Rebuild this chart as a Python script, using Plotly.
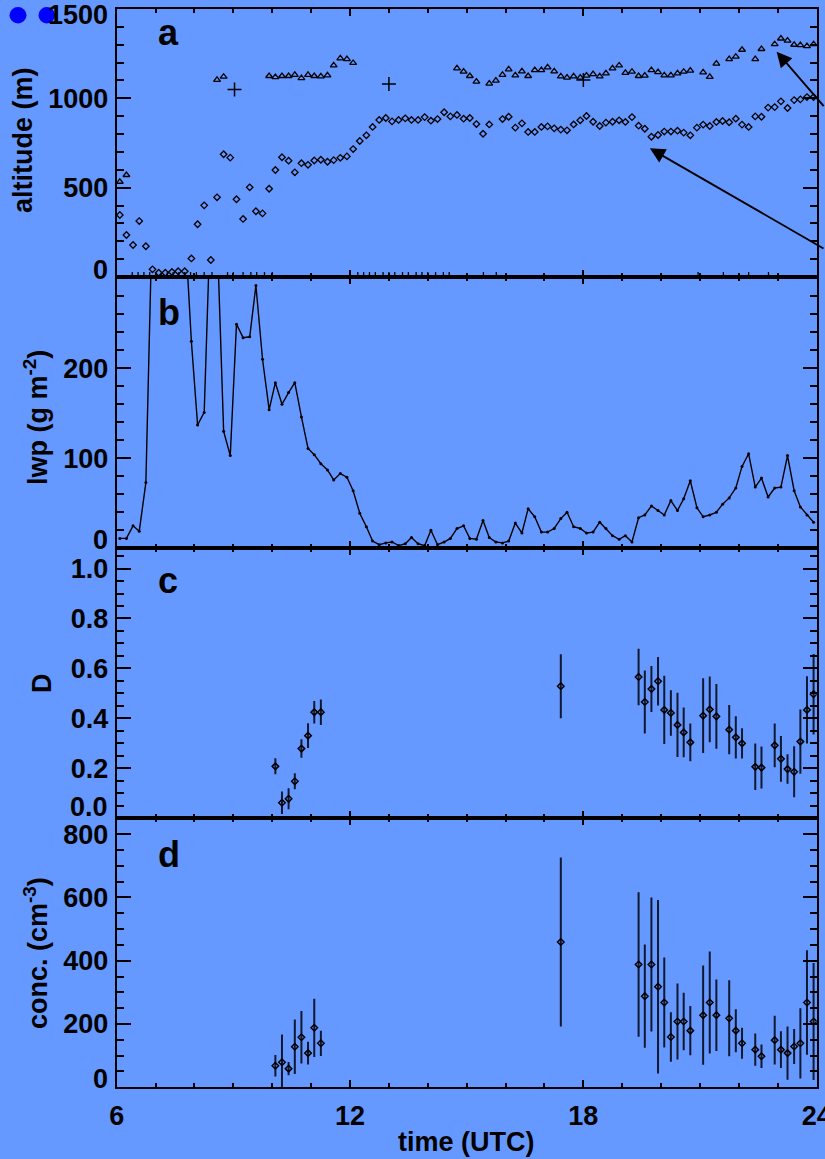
import plotly.graph_objects as go

W, H = 825, 1159
BG = "#6699ff"
FONT = "Liberation Sans, Arial, sans-serif"

# ---------------- panel a: altitude ----------------
tri_t = [6.08, 6.25, 8.58, 8.75, 9.92, 10.08, 10.25, 10.42, 10.58, 10.75, 10.92, 11.08, 11.25, 11.42,
         11.58, 11.75, 11.92, 12.08,
         14.75, 14.92, 15.08, 15.25, 15.58, 15.75, 15.92, 16.08, 16.25, 16.42, 16.58, 16.75, 16.92,
         17.08, 17.25, 17.42, 17.58, 17.75, 17.92, 18.08, 18.25, 18.42, 18.58, 18.75, 18.92, 19.08,
         19.25, 19.42, 19.58, 19.75, 19.92, 20.08, 20.25, 20.42, 20.58, 20.75, 21.08, 21.25, 21.42,
         21.75, 21.92, 22.08, 22.42, 22.58, 22.92, 23.08, 23.25, 23.42, 23.58, 23.75, 23.92]
tri_alt = [533, 571, 1103, 1121, 1125, 1119, 1125, 1125, 1131, 1113, 1131, 1125, 1123, 1129,
           1185, 1224, 1220, 1198,
           1168, 1150, 1125, 1094, 1082, 1099, 1131, 1162, 1129, 1151, 1125, 1158, 1158,
           1173, 1151, 1123, 1116, 1123, 1116, 1127, 1136, 1123, 1140, 1168, 1184, 1143,
           1149, 1125, 1127, 1158, 1147, 1129, 1129, 1140, 1149, 1155, 1145, 1120, 1194,
           1220, 1233, 1272, 1220, 1276, 1303, 1335, 1323, 1300, 1298, 1292, 1303]

dia_t = [6.08, 6.25, 6.42, 6.58, 6.75, 6.92, 7.08, 7.25, 7.42, 7.58, 7.75, 7.92, 8.08, 8.25, 8.42,
         8.58, 8.75, 8.92, 9.08, 9.25, 9.42, 9.58, 9.75, 9.92, 10.08, 10.25, 10.42, 10.58, 10.75,
         10.92, 11.08, 11.25, 11.42, 11.58, 11.75, 11.92, 12.08, 12.25, 12.42, 12.58, 12.75, 12.92,
         13.08, 13.25, 13.42, 13.58, 13.75, 13.92, 14.08, 14.25, 14.42, 14.58, 14.75, 14.92, 15.08,
         15.25, 15.42, 15.58, 15.92, 16.08, 16.25, 16.42, 16.58, 16.75, 16.92, 17.08, 17.25, 17.42,
         17.58, 17.75, 17.92, 18.08, 18.25, 18.42, 18.58, 18.75, 18.92, 19.08, 19.25, 19.42, 19.58,
         19.75, 19.92, 20.08, 20.25, 20.42, 20.58, 20.75, 20.92, 21.08, 21.25, 21.42, 21.58, 21.75,
         21.92, 22.08, 22.25, 22.42, 22.58, 22.75, 22.92, 23.08, 23.25, 23.42, 23.58, 23.75, 23.92]
dia_alt = [347, 235, 179, 313, 172, 43, 24, 24, 28, 32, 32, 104, 295, 401, 95,
           446, 687, 668, 435, 325, 502, 368, 356, 494, 599, 670, 651, 586, 637,
           628, 652, 656, 645, 654, 667, 675, 716, 761, 793, 840, 879, 890,
           871, 879, 888, 879, 879, 895, 875, 884, 922, 899, 907, 886, 890,
           856, 802, 854, 884, 897, 836, 860, 812, 812, 840, 843, 832, 825,
           821, 854, 877, 901, 869, 845, 864, 869, 877, 868, 895, 847, 830,
           785, 795, 814, 814, 819, 808, 793, 836, 853, 845, 868, 873, 866,
           886, 853, 840, 899, 897, 948, 951, 983, 946, 990, 994, 1007, 1007]

cross_t = [9.03, 13.0, 18.0]
cross_alt = [1050, 1080, 1103]

zero_t = [6.4, 6.55, 6.7, 6.85, 7.0, 7.15, 7.3, 7.45, 7.6, 7.75, 7.9, 8.05, 8.25, 8.45,
          8.85, 9.0, 9.25, 9.45, 9.6, 9.8, 10.0,
          12.2, 12.35, 12.5, 12.65, 12.85, 13.0, 13.15, 13.35, 13.5, 13.7, 13.85, 14.0,
          14.2, 14.4, 14.55, 15.43, 15.76, 20.95, 21.6, 22.25, 22.76]
zero_alt = [0] * len(zero_t)

# ---------------- panel b: lwp ----------------
lwp_t = [6.08, 6.25, 6.42, 6.58, 6.75, 6.92, 7.08, 7.25, 7.42, 7.58, 7.75, 7.92, 8.08, 8.25, 8.42,
         8.58, 8.75, 8.92, 9.08, 9.25, 9.42, 9.58, 9.75, 9.92, 10.08, 10.25, 10.42, 10.58, 10.75,
         10.92, 11.08, 11.25, 11.42, 11.58, 11.75, 11.92, 12.08, 12.25, 12.42, 12.58, 12.75, 12.92,
         13.08, 13.25, 13.42, 13.58, 13.75, 13.92, 14.08, 14.25, 14.42, 14.58, 14.75, 14.92, 15.08,
         15.25, 15.42, 15.58, 15.75, 15.92, 16.08, 16.25, 16.42, 16.58, 16.75, 16.92, 17.08, 17.25,
         17.42, 17.58, 17.75, 17.92, 18.08, 18.25, 18.42, 18.58, 18.75, 18.92, 19.08, 19.25, 19.42,
         19.58, 19.75, 19.92, 20.08, 20.25, 20.42, 20.58, 20.75, 20.92, 21.08, 21.25, 21.42, 21.58,
         21.75, 21.92, 22.08, 22.25, 22.42, 22.58, 22.75, 22.92, 23.08, 23.25, 23.42, 23.58, 23.75,
         23.92]
lwp_val = [11, 11, 25, 19, 73, 380, 420, 450, 420, 400, 362, 230, 137, 151, 380,
           354, 130, 103, 249, 234, 235, 292, 210, 154, 184, 160, 173, 184, 146,
           111, 104, 94, 87, 76, 83, 79, 64, 39, 24, 8, 4, 6,
           7, 3, 5, 12, 5, 3, 20, 4, 7, 11, 22, 25, 11,
           10, 31, 12, 7, 6, 8, 28, 17, 44, 35, 18, 18, 22,
           33, 40, 24, 22, 17, 18, 29, 22, 14, 10, 14, 7, 34,
           37, 47, 42, 37, 53, 42, 55, 75, 45, 35, 37, 40, 49,
           56, 67, 91, 105, 68, 78, 57, 67, 68, 103, 64, 46, 37,
           29]

# ---------------- panel c: D ----------------
d_t = [10.08, 10.25, 10.42, 10.58, 10.75, 10.92, 11.08, 11.25, 17.42, 19.42, 19.58, 19.75, 19.92,
       20.08, 20.25, 20.42, 20.58, 20.75, 21.08, 21.25, 21.42, 21.75, 21.92, 22.08, 22.42, 22.58,
       22.92, 23.08, 23.25, 23.42, 23.58, 23.75, 23.92]
d_val = [0.208, 0.062, 0.078, 0.148, 0.279, 0.331, 0.425, 0.425, 0.529, 0.566, 0.466, 0.518, 0.549,
         0.434, 0.422, 0.374, 0.344, 0.304, 0.411, 0.436, 0.408, 0.355, 0.324, 0.300, 0.206, 0.203,
         0.292, 0.238, 0.197, 0.186, 0.307, 0.434, 0.497]
d_err = [0.032, 0.045, 0.042, 0.032, 0.037, 0.050, 0.045, 0.051, 0.128, 0.113, 0.126, 0.092, 0.097,
         0.137, 0.091, 0.129, 0.100, 0.076, 0.150, 0.132, 0.130, 0.099, 0.085, 0.061, 0.093, 0.084,
         0.088, 0.092, 0.059, 0.102, 0.129, 0.135, 0.161]

# ---------------- panel d: concentration ----------------
c_t = d_t
c_val = [68, 79, 59, 128, 158, 108, 188, 139, 459, 388, 288, 388, 318,
         268, 159, 208, 208, 179, 228, 268, 228, 218, 179, 139, 119, 98,
         149, 119, 108, 129, 139, 268, 208]
c_err = [34, 88, 21, 86, 83, 36, 92, 40, 267, 228, 163, 212, 274,
         142, 78, 120, 91, 78, 157, 161, 113, 120, 68, 49, 51, 37,
         77, 58, 84, 55, 111, 165, 185]

# ---------------- tick labels ----------------
x_tickvals = [6, 12, 18, 24]
x_ticktext = ["6", "12", "18", "24"]
a_tickvals = [0, 500, 1000, 1500]
a_ticktext = ["0", "500", "1000", "1500"]
b_tickvals = [0, 100, 200, 300]
b_ticktext = ["0", "100", "200", ""]
c_tickvals = [0.0, 0.2, 0.4, 0.6, 0.8, 1.0]
c_ticktext = ["0.0", "0.2", "0.4", "0.6", "0.8", "1.0"]
d_tickvals = [0, 200, 400, 600, 800]
d_ticktext = ["0", "200", "400", "600", "800"]
panel_letters = ["a", "b", "c", "d"]
y_titles = ["altitude (m)", "lwp (g m<sup>-2</sup>)", "D", "conc. (cm<sup>-3</sup>)"]
x_title = "time (UTC)"

FS = 27


def px(x):
    return x / W


def py(y):
    return 1 - y / H


XL, XR = 116.7, 816.7
P = [(9.0, 277.0), (277.0, 548.3), (548.3, 818.3), (818.3, 1087.3)]

fig = go.Figure()

fig.add_trace(go.Scatter(x=dia_t, y=dia_alt, mode="markers", xaxis="x", yaxis="y",
                         marker=dict(symbol="diamond-open", size=5, color="black",
                                     line=dict(width=1.3, color="black"))))
fig.add_trace(go.Scatter(x=tri_t, y=tri_alt, mode="markers", xaxis="x", yaxis="y",
                         marker=dict(symbol="triangle-up-open", size=6, color="black",
                                     line=dict(width=1.3, color="black"))))
fig.add_trace(go.Scatter(x=cross_t, y=cross_alt, mode="markers", xaxis="x", yaxis="y",
                         marker=dict(symbol="cross-thin-open", size=10, color="black",
                                     line=dict(width=1.5, color="black"))))
fig.add_trace(go.Scatter(x=zero_t, y=zero_alt, mode="markers", xaxis="x", yaxis="y",
                         marker=dict(symbol="cross-thin-open", size=7, color="black",
                                     line=dict(width=1.3, color="black"))))
fig.add_trace(go.Scatter(x=lwp_t, y=lwp_val, mode="lines+markers", xaxis="x2", yaxis="y2",
                         line=dict(color="black", width=1.4),
                         marker=dict(symbol="circle", size=3, color="black")))
fig.add_trace(go.Scatter(x=d_t, y=d_val, mode="markers", xaxis="x3", yaxis="y3",
                         error_y=dict(type="data", array=d_err, visible=True, color="#101830",
                                      thickness=2, width=0),
                         marker=dict(symbol="diamond-open", size=5, color="black",
                                     line=dict(width=1.5, color="black"))))
fig.add_trace(go.Scatter(x=c_t, y=c_val, mode="markers", xaxis="x4", yaxis="y4",
                         error_y=dict(type="data", array=c_err, visible=True, color="#101830",
                                      thickness=2, width=0),
                         marker=dict(symbol="diamond-open", size=5, color="black",
                                     line=dict(width=1.5, color="black"))))

tfont = dict(family=FONT, size=FS, color="black", weight="bold")
axis_common = dict(showline=True, linecolor="black", linewidth=2, mirror="allticks",
                   ticks="inside", tickcolor="black", tickwidth=2, showgrid=False,
                   zeroline=False, automargin=False, tickfont=tfont)

layout = dict(width=W, height=H, margin=dict(l=0, r=0, t=0, b=0, pad=0, autoexpand=False),
              paper_bgcolor=BG, plot_bgcolor=BG, showlegend=False, template="none",
              font=dict(family=FONT, size=FS, color="black", weight="bold"))

yspecs = [
    (a_tickvals, a_ticktext, [0, 1500], 100),
    (b_tickvals, b_ticktext, [0, 301.4], 20),
    (c_tickvals, c_ticktext, [0, 1.081], 0.05),
    (d_tickvals, d_ticktext, [0, 850], 50),
]
# labels at the ends of an axis are drawn shifted inward (as annotations)
shifted = []  # (text, y pixel)
end_shift = {0: [(0, 270.0), (3, 15.0)], 1: [(0, 540.0)], 2: [(0, 806.5)], 3: [(0, 1078.5)]}
for i in range(4):
    sfx = "" if i == 0 else str(i + 1)
    top, bot = P[i]
    xa = dict(axis_common)
    xa.update(domain=[px(XL), px(XR)], range=[6, 24], anchor="y" + sfx,
              tickvals=x_tickvals, ticktext=x_ticktext, ticklen=7,
              showticklabels=(i == 3), ticklabelstandoff=3, ticklabeloverflow="allow",
              minor=dict(ticks="inside", ticklen=4, tickwidth=2, tickcolor="black",
                         dtick=1, tick0=6, showgrid=False))
    if i > 0:
        xa["matches"] = "x"
    tv, tt, rng, mdt = yspecs[i]
    tt_axis = list(tt)
    for k, ypix in end_shift[i]:
        shifted.append((tt[k], ypix))
        tt_axis[k] = ""
    ya = dict(axis_common)
    ya.update(domain=[py(bot), py(top)], range=rng, anchor="x" + sfx,
              tickvals=tv, ticktext=tt_axis, ticklen=14, ticklabelstandoff=1,
              ticklabeloverflow="allow",
              minor=dict(ticks="inside", ticklen=7, tickwidth=2, tickcolor="black",
                         dtick=mdt, tick0=0, showgrid=False))
    layout["xaxis" + sfx] = xa
    layout["yaxis" + sfx] = ya

fig.update_layout(**layout)

ann = []
for txt, ypix in shifted:
    ann.append(dict(text=txt, x=px(109), y=py(ypix), xref="paper", yref="paper",
                    xanchor="right", yanchor="middle", showarrow=False, borderpad=0,
                    font=tfont))
# panel letters
letter_pos = [(157, 32.4), (157, 312.4), (157, 580.4), (157, 854.4)]
for L, (lx, ly) in zip(panel_letters, letter_pos):
    ann.append(dict(text=L, x=px(lx), y=py(ly), xref="paper", yref="paper", xanchor="left",
                    yanchor="middle", showarrow=False, borderpad=0,
                    font=dict(family=FONT, size=36, color="black", weight="bold")))
# y titles
title_pos = [(23, 140), (36, 418), (42, 683), (36, 953)]
for T, (tx, ty) in zip(y_titles, title_pos):
    ann.append(dict(text=T, x=px(tx), y=py(ty), xref="paper", yref="paper", xanchor="center",
                    yanchor="middle", textangle=-90, showarrow=False, font=tfont))
# x title
ann.append(dict(text=x_title, x=px(466.7), y=py(1142), xref="paper", yref="paper",
                xanchor="center", yanchor="middle", showarrow=False, font=tfont))
# arrows
ann.append(dict(text="", x=22.97, y=1261, xref="x", yref="y", ax=80, ay=56, showarrow=True,
                arrowhead=2, arrowsize=1.6, arrowwidth=1.9, arrowcolor="black"))
ann.append(dict(text="", x=19.71, y=720, xref="x", yref="y", ax=200, ay=101, showarrow=True,
                arrowhead=2, arrowsize=1.6, arrowwidth=1.9, arrowcolor="black"))
fig.update_layout(annotations=ann)

# two blue dots in the top-left corner
for cx0, cx1 in [(9.5, 26.5), (38.5, 55.0)]:
    fig.add_shape(type="circle", xref="paper", yref="paper", x0=px(cx0), x1=px(cx1),
                  y0=py(23.5), y1=py(7.0), fillcolor="#0000ff", line=dict(width=0))

fig.write_html("out.html")
